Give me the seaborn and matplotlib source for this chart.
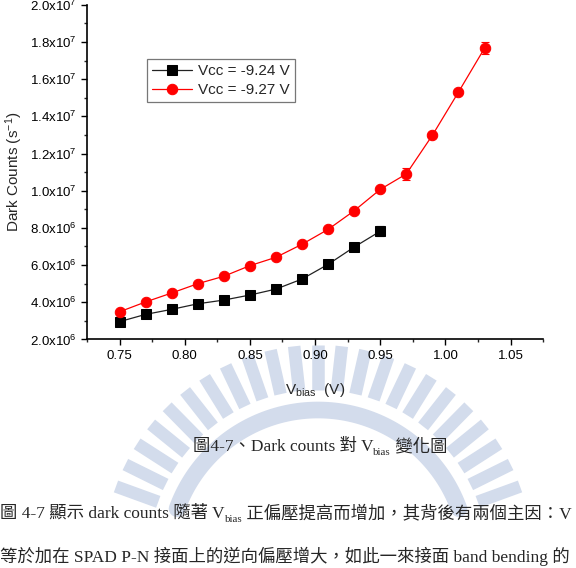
import numpy as np
import pandas as pd
import matplotlib
matplotlib.use("Agg")
import matplotlib.pyplot as plt
import seaborn as sns

# ---- data ----
v_black = [0.75, 0.77, 0.79, 0.81, 0.83, 0.85, 0.87, 0.89, 0.91, 0.93, 0.95]
dc_black = [2.96e6, 3.35e6, 3.62e6, 3.92e6, 4.12e6, 4.39e6, 4.71e6, 5.25e6, 6.04e6, 6.97e6, 7.82e6]
err_black = [0.08e6, 0.08e6, 0.08e6, 0.08e6, 0.08e6, 0.08e6, 0.08e6, 0.1e6, 0.1e6, 0.12e6, 0.28e6]

v_red = [0.75, 0.77, 0.79, 0.81, 0.83, 0.85, 0.87, 0.89, 0.91, 0.93, 0.95, 0.97, 0.99, 1.01, 1.03]
dc_red = [3.49e6, 4.02e6, 4.5e6, 5.0e6, 5.4e6, 5.97e6, 6.42e6, 7.12e6, 7.92e6, 8.92e6,
          10.07e6, 10.9e6, 12.98e6, 15.3e6, 17.66e6]
err_red = [0.08e6, 0.08e6, 0.08e6, 0.08e6, 0.08e6, 0.08e6, 0.08e6, 0.1e6, 0.1e6, 0.12e6,
           0.15e6, 0.33e6, 0.15e6, 0.15e6, 0.32e6]

labels = ["Vcc = -9.24 V", "Vcc = -9.27 V"]
x_ticks = [0.75, 0.80, 0.85, 0.90, 0.95, 1.00, 1.05]
y_ticks = [2e6, 4e6, 6e6, 8e6, 1e7, 1.2e7, 1.4e7, 1.6e7, 1.8e7, 2e7]
y_tick_labels = [r"2.0x10$^{6}$", r"4.0x10$^{6}$", r"6.0x10$^{6}$", r"8.0x10$^{6}$",
                 r"1.0x10$^{7}$", r"1.2x10$^{7}$", r"1.4x10$^{7}$", r"1.6x10$^{7}$",
                 r"1.8x10$^{7}$", r"2.0x10$^{7}$"]

# caption / body pieces: (text, is_subscript)
caption_pieces = [("圖4-7、Dark counts 對 V", False), ("bias", True), (" 變化圖", False)]
body1_pieces = [("圖 4-7 顯示 dark counts 隨著 V", False), ("bias", True),
                (" 正偏壓提高而增加，其背後有兩個主因：V", False)]
body2_pieces = [("等於加在 SPAD P-N 接面上的逆向偏壓增大，如此一來接面 band bending 的", False)]

sns.set_theme(style="ticks")
plt.rcParams["font.family"] = ["Liberation Sans", "Noto Sans CJK TC", "DejaVu Sans"]
plt.rcParams["mathtext.fontset"] = "custom"
plt.rcParams["mathtext.rm"] = "Liberation Sans"
plt.rcParams["mathtext.it"] = "Liberation Sans:italic"

fig = plt.figure(figsize=(5.76, 5.68), dpi=100)

# faint watermark approximation (ring of radial bars)
wm = fig.add_axes([0, 0, 1, 1], zorder=-5)
wm.set_xlim(0, 576); wm.set_ylim(568, 0); wm.axis("off")
cx, cy = 318, 560
for ang in np.linspace(200, 340, 23):
    a = np.deg2rad(ang)
    r0, r1 = 170, 215
    wm.plot([cx + r0*np.cos(a), cx + r1*np.cos(a)], [cy + r0*np.sin(a), cy + r1*np.sin(a)],
            color="#d3dcec", lw=9, solid_capstyle="butt")
th = np.linspace(np.deg2rad(200), np.deg2rad(340), 100)
wm.plot(cx + 150*np.cos(th), cy + 150*np.sin(th), color="#d3dcec", lw=12)

ax = fig.add_axes([0.151, 0.4023, 0.792, 0.5894])
ax.patch.set_alpha(0)

df_b = pd.DataFrame({"v": v_black, "dc": dc_black})
df_r = pd.DataFrame({"v": v_red, "dc": dc_red})

ax.errorbar(v_black, dc_black, yerr=err_black, fmt="none", ecolor="black", elinewidth=0.8, capsize=3, capthick=0.8)
ax.errorbar(v_red, dc_red, yerr=err_red, fmt="none", ecolor="red", elinewidth=0.8, capsize=3, capthick=0.8)
sns.lineplot(data=df_b, x="v", y="dc", ax=ax, color="#222222", lw=0.9, marker="s", markersize=6.5,
             markerfacecolor="black", markeredgecolor="black", label=labels[0])
sns.lineplot(data=df_r, x="v", y="dc", ax=ax, color="red", lw=0.9, marker="o", markersize=7.5,
             markerfacecolor="red", markeredgecolor="red", label=labels[1])

ax.set_xlim(0.725, 1.075)
ax.set_ylim(2e6, 2e7)
ax.set_xticks(x_ticks)
ax.set_xticklabels([f"{t:.2f}" for t in x_ticks])
ax.set_yticks(y_ticks)
ax.set_yticklabels(y_tick_labels)
ax.set_xticks(np.arange(0.725, 1.0751, 0.025), minor=True)
ax.set_yticks(np.arange(3e6, 2e7, 2e6), minor=True)
ax.tick_params(axis="both", which="major", direction="out", length=4, width=1, labelsize=9.5, colors="black")
ax.tick_params(axis="both", which="minor", direction="out", length=2.5, width=1)
for s in ["top", "right"]:
    ax.spines[s].set_visible(False)
for s in ["left", "bottom"]:
    ax.spines[s].set_color("black")
    ax.spines[s].set_linewidth(1.2)

ax.set_xlabel(r"V$_{\mathrm{bias}}$  (V)", fontsize=11, labelpad=14)
ax.set_ylabel(r"Dark Counts (s$^{-1}$)", fontsize=11)
ax.yaxis.label.set_va("center")
ax.yaxis.set_label_coords(-0.160, 0.5)

leg = ax.legend(loc="upper left", bbox_to_anchor=(0.1316, 0.838), borderaxespad=0, fontsize=11,
                frameon=True, fancybox=False, handlelength=2.6, handletextpad=0.4,
                borderpad=0.35, labelspacing=0.3)
leg.get_frame().set_edgecolor("#555555")
leg.get_frame().set_linewidth(0.9)

serif = ["Liberation Serif", "Noto Sans CJK TC", "DejaVu Sans"]
renderer = fig.canvas.get_renderer()
W, H = fig.bbox.width, fig.bbox.height


def draw_pieces(pieces, x_px, y_px, size, align="left"):
    texts = []
    x = 0.0
    for txt, sub in pieces:
        fs = size * 0.62 if sub else size
        dy = -size * 0.35 if sub else 0
        t = fig.text(0, 0, txt, fontsize=fs, family=serif, ha="left", va="baseline")
        w = t.get_window_extent(renderer).width
        texts.append((t, x, dy))
        x += w
    start = x_px - x / 2 if align == "center" else x_px
    for t, off, dy in texts:
        t.set_position(((start + off) / W, 1 - (y_px - dy) / H))


draw_pieces(caption_pieces, 320, 451, 12.5, align="center")
draw_pieces(body1_pieces, 0, 518, 12.5)
draw_pieces(body2_pieces, 0, 562, 12.5)

fig.savefig("out.png", dpi=100)
